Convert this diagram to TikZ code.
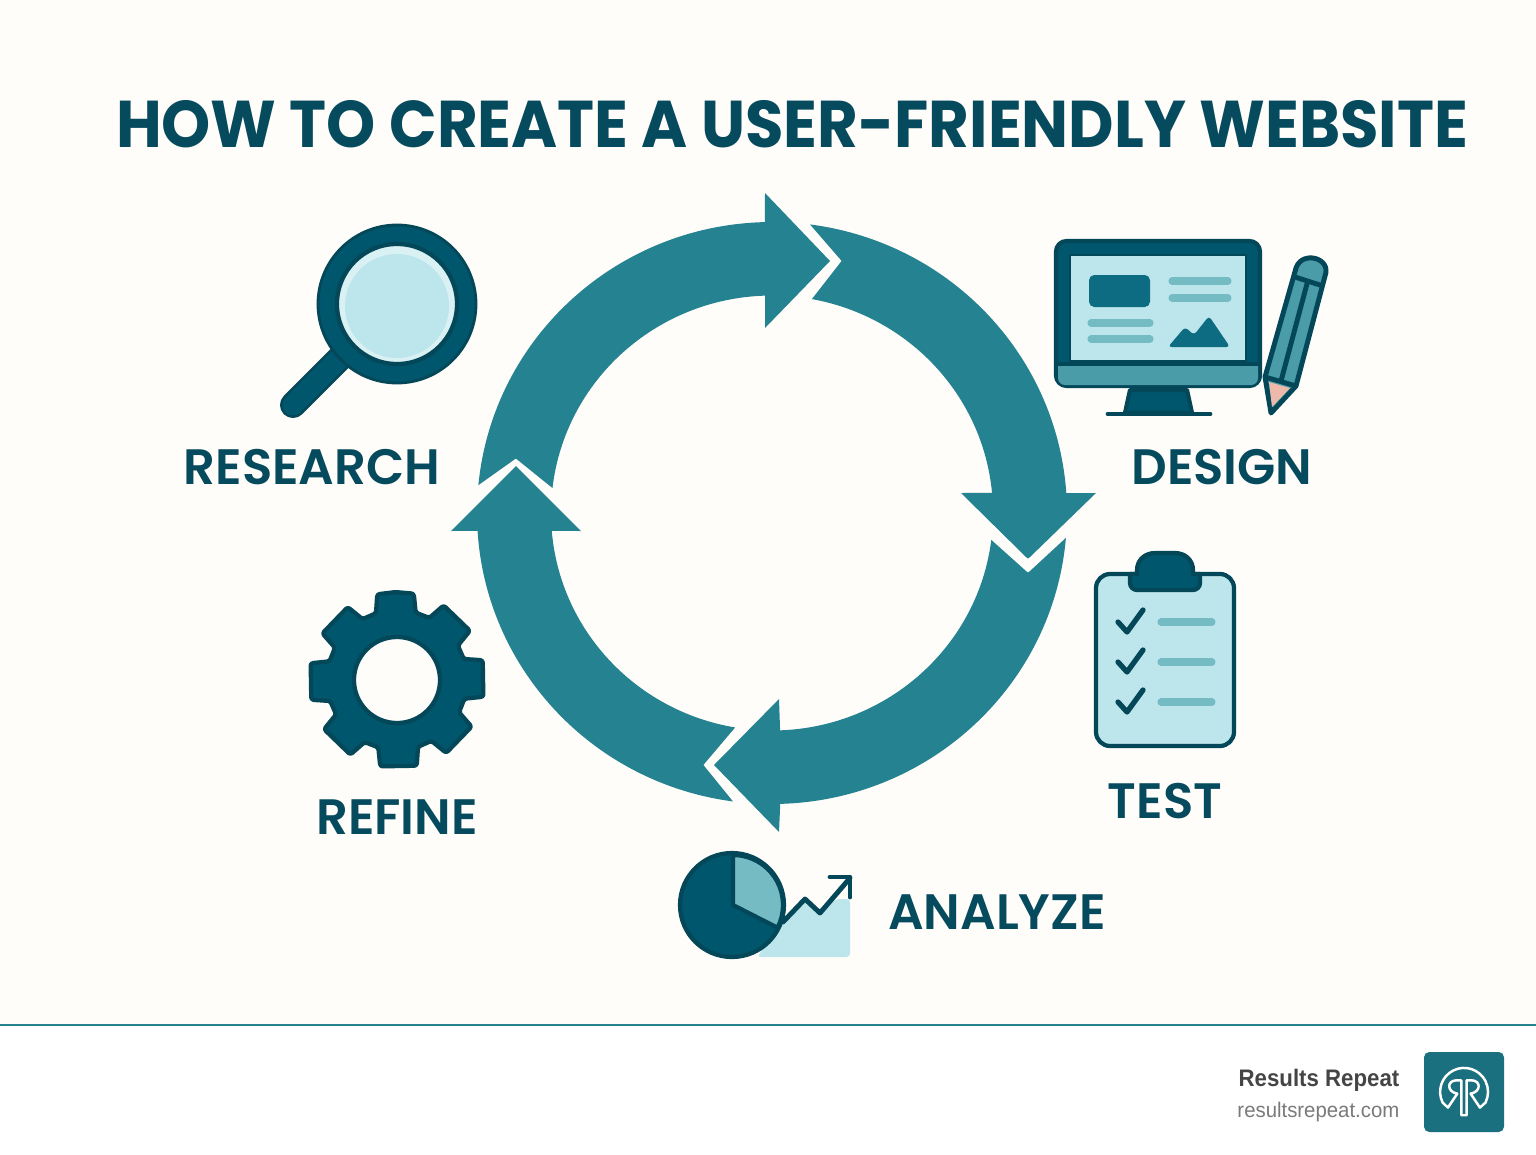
\documentclass[tikz,border=0pt]{standalone}
\usepackage{fontspec}
\setmainfont{Poppins SemiBold}
\newfontfamily\titlefont[FakeStretch=0.946]{Poppins}
\newfontfamily\brandfont[FakeStretch=0.93]{Liberation Sans}
\newfontfamily\sitefont[FakeStretch=0.965]{Liberation Sans}
\definecolor{paperCol}{HTML}{FEFDF9}
\definecolor{ringCol}{HTML}{258291}
\definecolor{deepCol}{HTML}{00566C}
\definecolor{edgeCol}{HTML}{044758}
\definecolor{paleCol}{HTML}{BCE6EB}
\definecolor{midCol}{HTML}{74BBC4}
\definecolor{penCol}{HTML}{4A9CA8}
\definecolor{inkCol}{HTML}{064A5E}
\definecolor{tipCol}{HTML}{EDB9AA}
\definecolor{blockCol}{HTML}{0E6C82}
\tikzset{
    stageLabel/.style={text=inkCol,font=\fontsize{14.15}{16}\selectfont,inner sep=0pt},
    iconEdge/.style={draw=edgeCol,line width=1.2pt,line join=round},
    softBar/.style={draw=midCol,line width=2pt,line cap=round},
    tickMark/.style={draw=edgeCol,line width=1.5pt,line cap=round,line join=round},
}
\def\cx{772}
\def\cy{513}
\def\Rox{295}
\def\Roy{291}
\def\Rix{221}
\def\Riy{217.5}
\newcommand{\ringOut}[1]{({\cx+\Rox*cos(#1)},{\cy+\Roy*sin(#1)})}
\newcommand{\ringIn}[1]{({\cx+\Rix*cos(#1)},{\cy+\Riy*sin(#1)})}
\begin{document}
\begin{tikzpicture}[x=0.01cm,y=-0.01cm]
    \useasboundingbox (0,0) rectangle (1536,1154);
    \fill[paperCol] (0,0) rectangle (1536,1026);
    \fill[white] (0,1026) rectangle (1536,1154);
    \draw[ringCol,line width=0.8pt] (0,1025) -- (1536,1025);
    \node[text=inkCol,font=\titlefont\fontsize{18.8}{22}\selectfont\bfseries,inner sep=0pt] (title) at (792,124) {HOW TO CREATE A USER-FRIENDLY WEBSITE};
    % ring of four arrows
    \fill[ringCol] \ringOut{185.5} arc[x radius=\Rox,y radius=\Roy,start angle=185.5,end angle=268.6] -- (765,193) -- (830,261) -- (765,328) -- \ringIn{268.2} arc[x radius=\Rix,y radius=\Riy,start angle=268.2,end angle=186.6] -- (514,457) .. controls (516,455) .. (518,457) -- cycle;
    \fill[ringCol] \ringOut{277.4} arc[x radius=\Rox,y radius=\Roy,start angle=277.4,end angle=356.1] -- (1096,493) -- (1030,557) .. controls (1028,559) .. (1026,557) -- (961,493) -- \ringIn{354.7} arc[x radius=\Rix,y radius=\Riy,start angle=354.7,end angle=280.4] -- (840,263) .. controls (842,261) .. (840,259) -- cycle;
    \fill[ringCol] \ringOut{4.9} arc[x radius=\Rox,y radius=\Roy,start angle=4.9,end angle=88.4] -- (779,832) -- (714,765) -- (779,699) -- \ringIn{87.9} arc[x radius=\Rix,y radius=\Riy,start angle=87.9,end angle=7.1] -- (1026,571) .. controls (1028,573) .. (1030,571) -- cycle;
    \fill[ringCol] \ringOut{97.6} arc[x radius=\Rox,y radius=\Roy,start angle=97.6,end angle=176.5] -- (451,531) -- (516,466) -- (581,531) -- \ringIn{175.3} arc[x radius=\Rix,y radius=\Riy,start angle=175.3,end angle=99.6] -- (705,763) .. controls (703,765) .. (705,767) -- cycle;
    % research
    \draw[edgeCol,line width=7.4pt,line cap=round] (293,405) -- (345,353);
    \draw[deepCol,line width=6pt,line cap=round] (293,405) -- (345,353);
    \filldraw[fill=deepCol,iconEdge,line width=0.8pt] (397,304) circle (79);
    \filldraw[fill=paleCol!55!white,iconEdge] (397,304) circle (60);
    \fill[paleCol] (397,306) circle (52);
    \node[stageLabel] (research) at (312,467) {RESEARCH};
    % design
    \filldraw[fill=deepCol,iconEdge,rounded corners=3pt] (1056,241) rectangle (1260,386);
    \filldraw[fill=paleCol,draw=edgeCol,line width=0.8pt] (1070,255) rectangle (1246,361);
    \fill[penCol] (1058,366) -- (1258,366) -- (1258,378) arc[start angle=0,end angle=90,radius=7] -- (1065,385) arc[start angle=90,end angle=180,radius=7] -- cycle;
    \draw[edgeCol,line width=1.2pt] (1056,364) -- (1260,364);
    \fill[blockCol,rounded corners=1.5pt] (1089,275) rectangle (1150,307);
    \foreach \bx/\ex/\by in {1172/1228/281,1172/1228/298,1091/1150/323,1091/1150/339}
        \draw[softBar] (\bx,\by) -- (\ex,\by);
    \fill[blockCol,rounded corners=1pt] (1168,347) -- (1185,327) -- (1194,335) -- (1209,316) -- (1230,347) -- cycle;
    \filldraw[fill=deepCol,iconEdge] (1130,390) -- (1187,390) -- (1192,413) -- (1125,413) -- cycle;
    \draw[edgeCol,line width=1.4pt,line cap=round] (1108,414) -- (1210,414);
    \filldraw[fill=penCol,iconEdge,line width=1.4pt] (1265,377) -- (1296,268) .. controls (1302,250) and (1332,258) .. (1325,276) -- (1296,386) -- (1271,413) -- cycle;
    \fill[tipCol] (1269,382) -- (1290,388) -- (1272,407) -- cycle;
    \draw[edgeCol,line width=1.4pt] (1265,377) -- (1296,386) (1295,277) -- (1323,286) (1281,381) -- (1308,280);
    \node[stageLabel] (design) at (1222,467) {DESIGN};
    % test
    \filldraw[fill=paleCol,iconEdge,rounded corners=4pt] (1096,574) rectangle (1234,746);
    \filldraw[fill=deepCol,iconEdge] (1130,574) -- (1130,583) arc[start angle=180,end angle=90,radius=7] -- (1193,590) arc[start angle=90,end angle=0,radius=7] -- (1200,574) -- (1193,574) -- (1193,570) .. controls (1193,560) and (1185,553) .. (1175,553) -- (1155,553) .. controls (1145,553) and (1137,560) .. (1137,570) -- (1137,574) -- cycle;
    \foreach \ty in {622,662,702}{
        \draw[tickMark] (1118,\ty) -- (1127,\ty+10) -- (1143,\ty-12);
        \draw[softBar] (1161,\ty) -- (1212,\ty);
    }
    \node[stageLabel] (test) at (1165,801) {TEST};
    % analyze
    \fill[paleCol,rounded corners=1pt] (757,957) -- (778,930) -- (805,901) -- (820,913) -- (836,899) -- (850,899) -- (850,957) -- cycle;
    \filldraw[fill=deepCol,iconEdge] (732,905) circle (52);
    \filldraw[fill=midCol,iconEdge] (733,905) -- (733,855) arc[start angle=-90,end angle=27,radius=50] -- cycle;
    \draw[edgeCol,line width=1.4pt,line cap=round,line join=round] (783,922) -- (805,899) -- (820,913) -- (850,878);
    \draw[edgeCol,line width=1.4pt,line cap=round,line join=round] (830,877) -- (850,877) -- (850,897);
    \node[stageLabel] (analyze) at (997,912) {ANALYZE};
    % refine
    \filldraw[fill=deepCol,iconEdge,rounded corners=0.7pt,even odd rule] ({397+88*cos(-91)},{680+88*sin(-91)})
        \foreach \k in {0,45,...,315}{
            -- ({397+88*cos(\k-79)},{680+88*sin(\k-79)})
            -- ({397+70*cos(\k-74.5)},{680+70*sin(\k-74.5)})
            -- ({397+70*cos(\k-62.5)},{680+70*sin(\k-62.5)})
            -- ({397+88*cos(\k-58)},{680+88*sin(\k-58)})
        } -- cycle (397,680) circle (43);
    \node[stageLabel] (refine) at (397,817) {REFINE};
    % footer
    \node[anchor=east,inner sep=0pt,text=black!73,font=\brandfont\fontsize{6.8}{9}\selectfont\bfseries] (brand) at (1400,1080) {Results Repeat};
    \node[anchor=east,inner sep=0pt,text=black!52,font=\sitefont\fontsize{6}{8}\selectfont] (site) at (1400,1112) {resultsrepeat.com};
    \fill[ringCol!70!edgeCol,rounded corners=1.5pt] (1424,1052) rectangle (1504,1132);
    \begin{scope}[shift={(1424,1052)},x=0.00333cm,y=-0.00333cm]
        \draw[white,line width=0.7pt,line join=round] (56,152) arc[start angle=153.4,end angle=386.6,radius=72] -- (168,167) -- (140,125) .. controls (172,120) and (172,85) .. (142,85) -- (128,85) -- (128,190) -- (112,190) -- (112,85) -- (98,85) .. controls (68,85) and (68,120) .. (100,125) -- (72,167) -- cycle;
    \end{scope}
\end{tikzpicture}
\end{document}
